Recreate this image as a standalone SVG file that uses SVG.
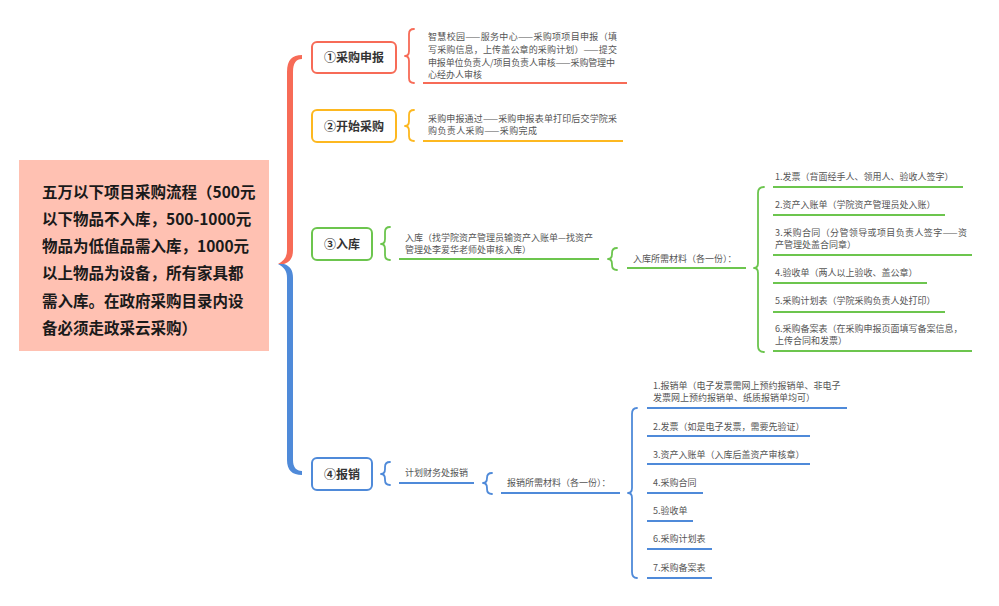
<svg xmlns="http://www.w3.org/2000/svg" width="999" height="606" viewBox="0 0 999 606">
<style>
.t{font-family:"Noto Sans CJK SC","Liberation Sans",sans-serif;font-size:9px;fill:#555}
.lbl{font-family:"Noto Sans CJK SC","Liberation Sans",sans-serif;font-size:12px;font-weight:700;fill:#333;text-anchor:middle}
.root{font-family:"Noto Sans CJK SC","Liberation Sans",sans-serif;font-size:15.5px;font-weight:700;fill:#1a1a1a}
.br{fill:none;stroke-width:1.8;stroke-linecap:round;stroke-linejoin:round}
.ul{stroke-width:2;fill:none}
.r{stroke:#F76B57}.o{stroke:#FDB820}.g{stroke:#6CC54E}.b{stroke:#4F8AD9}
.box{fill:#fff;stroke-width:2}
</style>
<rect width="999" height="606" fill="#fff"/>
<g id="connectors">
<path d="M302,55 C292,55 287,60 287,72 L287,250 C287,257 284,261 278,264 L284,264 C290,262 293,258 293,250 L293,72 C293,63 296,59 302,59 Z" fill="#F76B57"/>
<path d="M278,264 C284,267 287,271 287,278 L287,460 C287,470 292,475 302,475 L302,471 C296,471 293,467 293,460 L293,278 C293,270 290,266 284,264 Z" fill="#4F8AD9"/>
<path class="br r" d="M414,29 Q409,29 409,34 L409,51 Q409,56 405,56 Q409,56 409,61 L409,78 Q409,83 414,83"/>
<path class="br o" d="M414,110 Q409,110 409,115 L409,121 Q409,126 405,126 Q409,126 409,131 L409,136 Q409,141 414,141"/>
<path class="br g" d="M390,227 Q385,227 385,232 L385,239 Q385,244 381,244 Q385,244 385,249 L385,255 Q385,260 390,260"/>
<path class="br g" d="M617,248 Q612,248 612,253 L612,254 Q612,259 608,259 Q612,259 612,264 L612,265 Q612,270 617,270"/>
<path class="br g" d="M764,187 Q758,187 758,193 L758,263 Q758,268 754,268 Q758,268 758,273 L758,346 Q758,352 764,352"/>
<path class="br b" d="M390,462 Q385,462 385,467 L385,469 Q385,474 381,474 Q385,474 385,479 L385,480 Q385,485 390,485"/>
<path class="br b" d="M492,473 Q487,473 487,478 L487,478 Q487,483 483,483 Q487,483 487,488 L487,489 Q487,494 492,494"/>
<path class="br b" d="M637,408 Q632,408 632,414 L632,488 Q632,493 628,493 Q632,493 632,498 L632,572 Q632,578 637,578"/>
<line class="ul r" x1="423" y1="83" x2="627" y2="83"/>
<line class="ul o" x1="423" y1="141" x2="623" y2="141"/>
<line class="ul g" x1="399" y1="259" x2="599" y2="259"/>
<line class="ul g" x1="627" y1="268" x2="746" y2="268"/>
<line class="ul g" x1="773" y1="187" x2="963" y2="187"/>
<line class="ul g" x1="773" y1="215" x2="945" y2="215"/>
<line class="ul g" x1="773" y1="255" x2="972" y2="255"/>
<line class="ul g" x1="773" y1="283" x2="927" y2="283"/>
<line class="ul g" x1="773" y1="312" x2="945" y2="312"/>
<line class="ul g" x1="773" y1="351" x2="972" y2="351"/>
<line class="ul b" x1="399" y1="483" x2="474" y2="483"/>
<line class="ul b" x1="501" y1="493" x2="620" y2="493"/>
<line class="ul b" x1="647" y1="408" x2="847" y2="408"/>
<line class="ul b" x1="647" y1="436" x2="810" y2="436"/>
<line class="ul b" x1="647" y1="464" x2="810" y2="464"/>
<line class="ul b" x1="647" y1="493" x2="703" y2="493"/>
<line class="ul b" x1="647" y1="521" x2="693" y2="521"/>
<line class="ul b" x1="647" y1="549" x2="712" y2="549"/>
<line class="ul b" x1="647" y1="578" x2="712" y2="578"/>
</g>
<g id="root">
<rect x="19" y="160" width="250" height="191" fill="#FFC1B2"/>
<text class="root" x="42" y="197.5">五万以下项目采购流程（500元</text>
<text class="root" x="42" y="224.8">以下物品不入库，500-1000元</text>
<text class="root" x="42" y="252">物品为低值品需入库，1000元</text>
<text class="root" x="42" y="279.4">以上物品为设备，所有家具都</text>
<text class="root" x="42" y="306.7">需入库。在政府采购目录内设</text>
<text class="root" x="42" y="334">备必须走政采云采购）</text>
</g>
<g id="node1">
<rect class="box r" x="312" y="42" width="84" height="31" rx="5"/>
<text class="lbl" x="354" y="61.5">①采购申报</text>
</g>
<g id="node1-detail">
<text class="t" x="428" y="40" textLength="189" lengthAdjust="spacing">智慧校园——服务中心——采购项项目申报（填</text>
<text class="t" x="428" y="53" textLength="189" lengthAdjust="spacing">写采购信息，上传盖公章的采购计划）——提交</text>
<text class="t" x="428" y="66" textLength="187" lengthAdjust="spacing">申报单位负责人/项目负责人审核——采购管理中</text>
<text class="t" x="428" y="78">心经办人审核</text>
</g>
<g id="node2">
<rect class="box o" x="312" y="110" width="84" height="32" rx="5"/>
<text class="lbl" x="354" y="130.5">②开始采购</text>
</g>
<g id="node2-detail">
<text class="t" x="428" y="122" textLength="189" lengthAdjust="spacing">采购申报通过——采购申报表单打印后交学院采</text>
<text class="t" x="428" y="134" textLength="109" lengthAdjust="spacing">购负责人采购——采购完成</text>
</g>
<g id="node3">
<rect class="box g" x="312" y="228" width="60" height="32" rx="5"/>
<text class="lbl" x="342" y="248.5">③入库</text>
</g>
<g id="node3-detail">
<text class="t" x="405" y="241" textLength="188" lengthAdjust="spacing">入库（找学院资产管理员输资产入账单—找资产</text>
<text class="t" x="405" y="253">管理处李爱华老师处审核入库）</text>
</g>
<g id="node3-materials">
<text class="t" x="633" y="262">入库所需材料（各一份）：</text>
</g>
<g id="node3-items">
<text class="t" x="775" y="180">1.发票（背面经手人、领用人、验收人签字）</text>
<text class="t" x="775" y="208">2.资产入账单（学院资产管理员处入账）</text>
<text class="t" x="775" y="236" textLength="192" lengthAdjust="spacing">3.采购合同（分管领导或项目负责人签字——资</text>
<text class="t" x="775" y="248">产管理处盖合同章）</text>
<text class="t" x="775" y="276">4.验收单（两人以上验收、盖公章）</text>
<text class="t" x="775" y="304">5.采购计划表（学院采购负责人处打印）</text>
<text class="t" x="775" y="332">6.采购备案表（在采购申报页面填写备案信息，</text>
<text class="t" x="775" y="344">上传合同和发票）</text>
</g>
<g id="node4">
<rect class="box b" x="312" y="458" width="60" height="32" rx="5"/>
<text class="lbl" x="342" y="478.5">④报销</text>
</g>
<g id="node4-detail">
<text class="t" x="405" y="476">计划财务处报销</text>
</g>
<g id="node4-materials">
<text class="t" x="507" y="486">报销所需材料（各一份）：</text>
</g>
<g id="node4-items">
<text class="t" x="653" y="389">1.报销单（电子发票需网上预约报销单、非电子</text>
<text class="t" x="653" y="401">发票网上预约报销单、纸质报销单均可）</text>
<text class="t" x="653" y="430">2.发票（如是电子发票，需要先验证）</text>
<text class="t" x="653" y="458">3.资产入账单（入库后盖资产审核章）</text>
<text class="t" x="653" y="486">4.采购合同</text>
<text class="t" x="653" y="514">5.验收单</text>
<text class="t" x="653" y="542">6.采购计划表</text>
<text class="t" x="653" y="571">7.采购备案表</text>
</g>
</svg>
